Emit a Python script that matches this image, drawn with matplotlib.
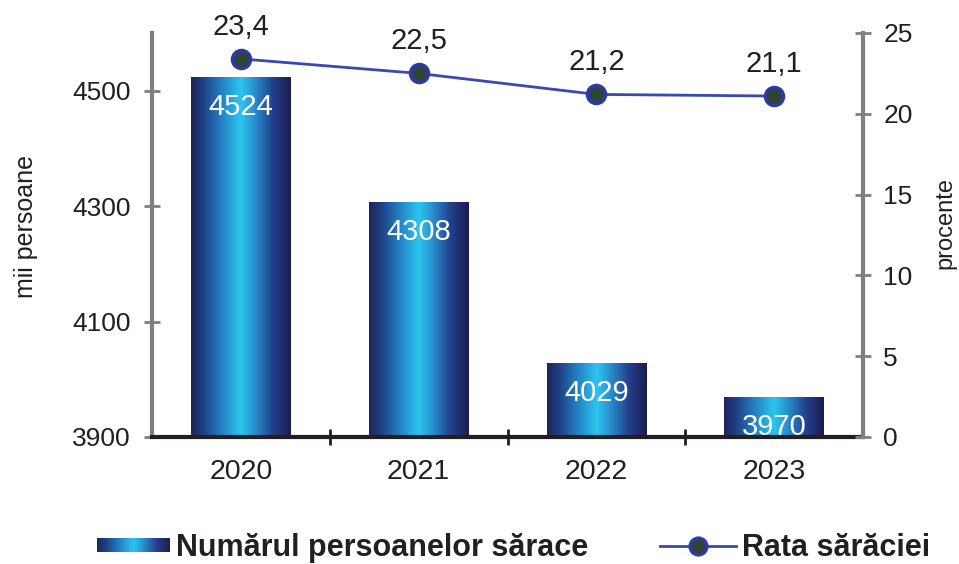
import numpy as np
import matplotlib
matplotlib.use("Agg")
import matplotlib.pyplot as plt
from matplotlib.colors import LinearSegmentedColormap
from matplotlib.lines import Line2D

plt.rcParams['font.family'] = ['Liberation Sans', 'DejaVu Sans']

years = ['2020', '2021', '2022', '2023']
persons = [4524, 4308, 4029, 3970]
rate = [23.4, 22.5, 21.2, 21.1]
rate_labels = ['23,4', '22,5', '21,2', '21,1']
left_ticks = [3900, 4100, 4300, 4500]
right_ticks = [0, 5, 10, 15, 20, 25]

grad = LinearSegmentedColormap.from_list('g', [
    (0.0, '#1e2558'), (0.12, '#1f3f84'), (0.32, '#2486c8'), (0.5, '#2cc6ef'),
    (0.62, '#2a95d4'), (0.82, '#23408c'), (1.0, '#1d1c50')])

TXT = '#231f20'
fig = plt.figure(figsize=(9.59, 5.64), dpi=100)
ax = fig.add_axes([152/959, 1-437/564, (863-152)/959, (437-33)/564])
x = np.arange(len(years))
bars = ax.bar(x, [p - 3900 for p in persons], bottom=3900, width=0.56,
              facecolor='none', edgecolor='none')
gimg = np.linspace(0, 1, 256).reshape(1, -1)
for b in bars:
    x0, y0 = b.get_x(), b.get_y()
    w, h = b.get_width(), b.get_height()
    im = ax.imshow(gimg, cmap=grad, extent=[x0, x0 + w, y0, y0 + h],
                   aspect='auto', zorder=2, interpolation='bicubic')
    im.set_clip_path(b)
for xi, p in zip(x, persons):
    ax.text(xi, p - 52, str(p), ha='center', va='center', color='white',
            fontsize=21, zorder=5)

ax.set_xlim(-0.5, 3.5)
ax.set_ylim(3900, 4600)
ax.set_yticks(left_ticks)
ax.set_yticklabels([str(t) for t in left_ticks], fontsize=19, color=TXT)
ax.set_xticks(x)
ax.set_xticklabels(years, fontsize=20.5, color=TXT)
ax.set_xticks([0.5, 1.5, 2.5], minor=True)
ax.tick_params(axis='x', which='major', length=0, pad=16)
ax.tick_params(axis='x', which='minor', length=11, width=2, direction='inout', color=TXT)
ax.tick_params(axis='y', length=11, width=2, direction='inout', color='#808080', pad=10)
for s in ['top', 'right']:
    ax.spines[s].set_visible(False)
ax.spines['left'].set_color('#808080')
ax.spines['left'].set_linewidth(3)
ax.spines['bottom'].set_color(TXT)
ax.spines['bottom'].set_linewidth(3)
ax.spines['bottom'].set_zorder(6)
ax.set_ylabel('mii persoane', fontsize=18, color=TXT)
ax.yaxis.set_label_coords(-0.16, 0.52)

ax2 = ax.twinx()
ax2.set_ylim(0, 25)
ax2.set_yticks(right_ticks)
ax2.set_yticklabels([str(t) for t in right_ticks], fontsize=19, color=TXT)
ax2.tick_params(axis='y', length=11, width=2, direction='inout', color='#808080', pad=9)
for s in ['top', 'left', 'bottom']:
    ax2.spines[s].set_visible(False)
ax2.spines['right'].set_color('#808080')
ax2.spines['right'].set_linewidth(3)
ax2.plot(x, rate, color='#3b48b0', lw=2, marker='o', markersize=13,
         markerfacecolor='#2d4437', markeredgecolor='#2b3aa6', markeredgewidth=2.5,
         zorder=5)
for xi, r, lab in zip(x, rate, rate_labels):
    ax2.text(xi, r + 2.0, lab, ha='center', va='center', fontsize=21, color=TXT)
ax2.set_ylabel('procente', fontsize=17, color=TXT, rotation=90)
ax2.yaxis.set_label_coords(1.1, 0.53)

# legend (manual)
lax = fig.add_axes([97/959, 1-552/564, 73/959, 14/564])
lax.imshow(gimg, cmap=grad, aspect='auto', extent=[0, 1, 0, 1])
lax.set_axis_off()
fig.text(176/959, 1-556/564, 'Numărul persoanelor sărace', fontsize=22,
         fontweight='bold', color=TXT, ha='left', va='baseline')
fig.add_artist(Line2D([660/959, 736/959], [1-546/564, 1-546/564], color='#3b48b0', lw=2,
                      transform=fig.transFigure))
fig.add_artist(Line2D([698/959], [1-546/564], marker='o', markersize=12,
                      markerfacecolor='#2d4437', markeredgecolor='#2b3aa6',
                      markeredgewidth=2.5, transform=fig.transFigure))
fig.text(742/959, 1-556/564, 'Rata sărăciei', fontsize=22,
         fontweight='bold', color=TXT, ha='left', va='baseline')

fig.savefig('out.png', dpi=100)
